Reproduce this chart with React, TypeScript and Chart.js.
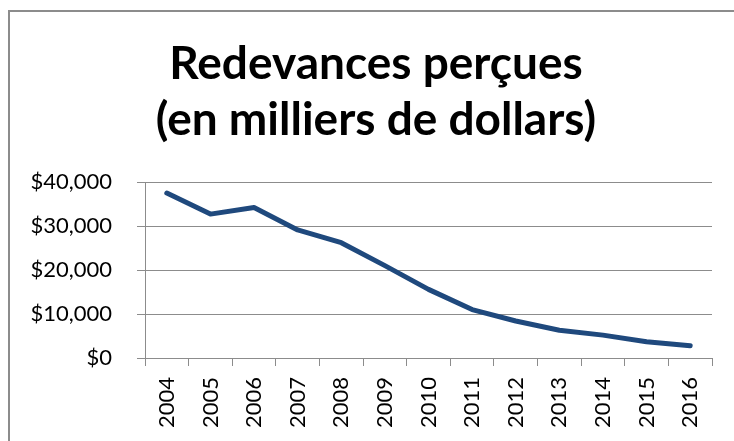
import { useEffect, useRef } from "react";
import { Chart, registerables } from "chart.js";

Chart.register(...registerables);

const years = ["2004", "2005", "2006", "2007", "2008", "2009", "2010", "2011", "2012", "2013", "2014", "2015", "2016"];
const royalties = [37500, 32700, 34200, 29100, 26200, 21000, 15600, 11000, 8400, 6300, 5200, 3700, 2800];
const yTicks = [0, 10000, 20000, 30000, 40000];
const titleLines = ["Redevances perçues", "(en milliers de dollars)"];

const GRID = "#8c8c8c";
const FONT = "Lato";

export default function App() {
  const ref = useRef<HTMLCanvasElement>(null);
  useEffect(() => {
    const chart = new Chart(ref.current as HTMLCanvasElement, {
      type: "line",
      data: {
        labels: years,
        datasets: [
          {
            data: royalties,
            yAxisID: "y",
            borderColor: "#1F497D",
            borderWidth: 5,
            pointRadius: 0,
            borderCapStyle: "round",
            borderJoinStyle: "round",
            tension: 0,
            fill: false,
          },
        ],
      },
      options: {
        responsive: false,
        animation: false,
        layout: { padding: { left: 0, right: 0, top: 0, bottom: 0 } },
        plugins: {
          legend: { display: false },
          tooltip: { enabled: false },
          title: {
            display: true,
            text: titleLines,
            color: "#000",
            font: { family: FONT, weight: "bold", size: 46, lineHeight: 56 / 46 },
            padding: { top: 24, bottom: 34 },
          },
        },
        scales: {
          x: {
            offset: true,
            grid: { offset: true, drawOnChartArea: false, drawTicks: true, tickLength: 8, color: GRID, lineWidth: 1 },
            border: { display: true, color: GRID },
            ticks: {
              minRotation: 90,
              maxRotation: 90,
              autoSkip: false,
              padding: 11,
              color: "#000",
              font: { family: FONT, size: 22 },
            },
            afterFit: (s: any) => {
              s.height = 83;
            },
          },
          y: {
            position: "left",
            min: 0,
            max: 40000,
            afterBuildTicks: (s: any) => {
              s.ticks = yTicks.map((v) => ({ value: v }));
            },
            ticks: {
              padding: 25,
              color: "#000",
              font: { family: FONT, size: 22 },
              callback: (v: any) => "$" + Number(v).toLocaleString("en-US"),
            },
            grid: { color: GRID, tickLength: 8, lineWidth: 1 },
            border: { display: true, color: GRID },
            afterFit: (s: any) => {
              s.width = 135;
            },
          },
          spacer: {
            type: "linear",
            position: "right",
            display: true,
            grid: { display: false, drawTicks: false },
            border: { display: false },
            ticks: { display: false },
            afterFit: (s: any) => {
              s.width = 30;
            },
          },
        },
      },
    } as any);
    return () => chart.destroy();
  }, []);

  return (
    <div style={{ position: "fixed", left: 0, top: 0, width: 734, height: 441, overflow: "hidden", background: "#fff" }}>
      <div
        style={{
          position: "absolute",
          left: 8,
          top: 10,
          width: 760,
          height: 480,
          border: "2px solid #8c8c8c",
          boxSizing: "border-box",
          background: "#fff",
        }}
      >
        <canvas ref={ref} width={732} height={429} style={{ display: "block" }} />
      </div>
    </div>
  );
}
